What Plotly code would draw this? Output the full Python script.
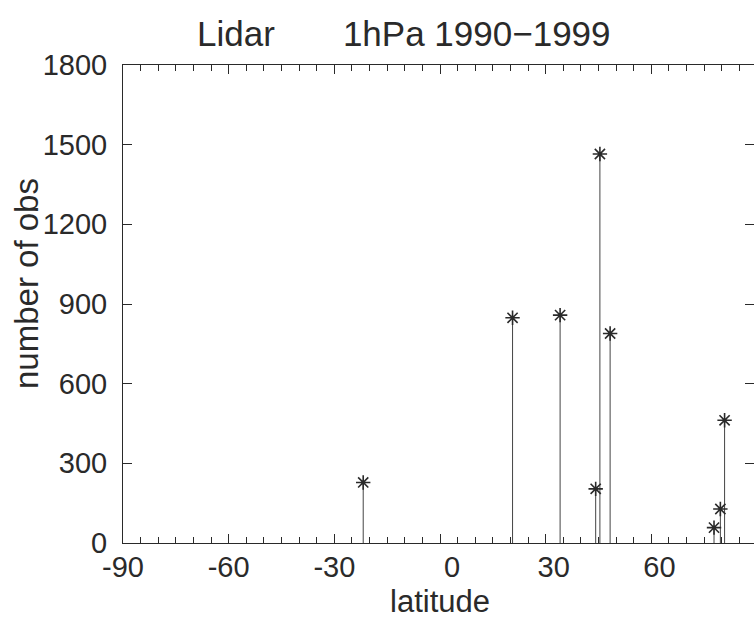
import plotly.graph_objects as go

# Data
latitudes = [-21.8, 20.6, 34.1, 44.2, 45.4, 48.3, 77.8, 79.6, 80.8]
num_obs = [228, 848, 858, 204, 1465, 789, 58, 128, 462]

x_tickvals = [-90, -60, -30, 0, 30, 60, 90]
NB = "\u00a0"
x_ticktext = ["-90", "-60", "-30", NB * 3 + "0", NB * 2 + "30", NB * 2 + "60", NB * 2 + "90"]
y_tickvals = [0, 300, 600, 900, 1200, 1500, 1800]
y_ticktext = ["0", "300", "600", "900", "1200", "1500", "1800"]

title_text = "Lidar" + NB * 7 + "1hPa 1990\u22121999"

FONT = "Liberation Sans, Arial, sans-serif"
INK = "#2a2a2a"

# stems built from the data
stem_x, stem_y = [], []
for la, v in zip(latitudes, num_obs):
    stem_x += [la, la, None]
    stem_y += [0, v, None]

fig = go.Figure()
fig.add_trace(go.Scatter(x=stem_x, y=stem_y, mode="lines",
                         line=dict(color="#444444", width=1),
                         hoverinfo="skip", showlegend=False))
fig.add_trace(go.Scatter(x=latitudes, y=num_obs, mode="markers",
                         marker=dict(symbol="asterisk-open", size=12, color=INK,
                                     line=dict(color=INK, width=1.6)),
                         showlegend=False))

W, H = 754, 622
L, R, T, B = 123, 0, 65, 79
pw = W - L - R
ph = H - T - B

fig.update_layout(
    width=W, height=H,
    margin=dict(l=L, r=R, t=T, b=B, pad=0),
    paper_bgcolor="white", plot_bgcolor="white",
    font=dict(family=FONT, color=INK, size=29),
    showlegend=False,
)
fig.update_xaxes(
    range=[-90, 89.15], tickmode="array", tickvals=x_tickvals, ticktext=x_ticktext,
    ticks="inside", ticklen=9, tickwidth=1, tickcolor=INK,
    minor=dict(dtick=5, tick0=0, ticks="inside", ticklen=6, tickwidth=1, tickcolor=INK),
    showline=True, linecolor=INK, linewidth=1, mirror="ticks",
    showgrid=False, zeroline=False,
    tickfont=dict(family=FONT, size=29, color=INK),
    ticklabelstandoff=-2,
)
fig.update_yaxes(
    range=[0, 1800], tickmode="array", tickvals=y_tickvals, ticktext=y_ticktext,
    ticks="inside", ticklen=9, tickwidth=1, tickcolor=INK,
    showline=True, linecolor=INK, linewidth=1, mirror="ticks",
    showgrid=False, zeroline=False,
    tickfont=dict(family=FONT, size=29, color=INK),
    ticklabelstandoff=9,
)

def px_x(x):
    return (x - L) / pw

def px_y(y):
    return (H - B - y) / ph

fig.add_annotation(text=title_text, xref="paper", yref="paper",
                   x=px_x(404), y=px_y(33), showarrow=False,
                   xanchor="center", yanchor="middle",
                   font=dict(family=FONT, size=35, color=INK))
fig.add_annotation(text="latitude", xref="paper", yref="paper",
                   x=px_x(440), y=px_y(601), showarrow=False,
                   xanchor="center", yanchor="middle",
                   font=dict(family=FONT, size=31, color=INK))
fig.add_annotation(text="number of obs", xref="paper", yref="paper",
                   x=px_x(26), y=px_y(284), showarrow=False, textangle=-90,
                   xanchor="center", yanchor="middle",
                   font=dict(family=FONT, size=33, color=INK))

fig.write_html("out.html")
